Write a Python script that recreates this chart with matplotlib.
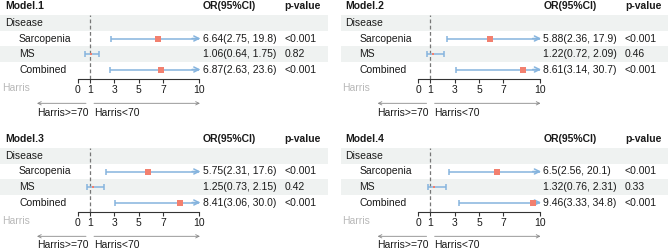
import matplotlib
matplotlib.use("Agg")
import matplotlib.pyplot as plt

plt.rcParams['font.family'] = ['Liberation Sans', 'DejaVu Sans']

# data
models = ['Model.1', 'Model.2', 'Model.3', 'Model.4']
groups = ['Sarcopenia', 'MS', 'Combined']
or_est = [[6.64, 1.06, 6.87], [5.88, 1.22, 8.61], [5.75, 1.25, 8.41], [6.5, 1.32, 9.46]]
ci_low = [[2.75, 0.64, 2.63], [2.36, 0.72, 3.14], [2.31, 0.73, 3.06], [2.56, 0.76, 3.33]]
ci_high = [[19.8, 1.75, 23.6], [17.9, 2.09, 30.7], [17.6, 2.15, 30.0], [20.1, 2.31, 34.8]]
ci_text = [['6.64(2.75, 19.8)', '1.06(0.64, 1.75)', '6.87(2.63, 23.6)'],
           ['5.88(2.36, 17.9)', '1.22(0.72, 2.09)', '8.61(3.14, 30.7)'],
           ['5.75(2.31, 17.6)', '1.25(0.73, 2.15)', '8.41(3.06, 30.0)'],
           ['6.5(2.56, 20.1)', '1.32(0.76, 2.31)', '9.46(3.33, 34.8)']]
p_text = [['<0.001', '0.82', '<0.001'], ['<0.001', '0.46', '<0.001'],
          ['<0.001', '0.42', '<0.001'], ['<0.001', '0.33', '<0.001']]
ticks = [0, 1, 3, 5, 7, 10]
xmax = 10

# styling
W, H = 669, 250
TXT = '#1a1a1a'
CI_COL = '#86b4de'
PT_COL = '#f2806f'
BAND = '#eff2f1'
FS = 7.5
marker_px = [5.5, 2.5, 6.5]

fig = plt.figure(figsize=(W / 100, H / 100), dpi=100)

# panel geometry in pixels
offsets = [(0, 0), (340.6, 0), (0, 133), (340.6, 133)]
ax_x0, ax_x1, ax_top, ax_bot = 77.7, 199.3, 15, 79
row_px = 15.5


def fx(px):
    # pixel x (relative to panel) -> axes fraction
    return (px - ax_x0) / (ax_x1 - ax_x0)


def ry(px):
    # pixel y (relative to panel) -> row units
    return 1 + (px - 23) / row_px


for k, (ox, oy) in enumerate(offsets):
    ax = fig.add_axes([(ox + ax_x0) / W, 1 - (oy + ax_bot) / H,
                       (ax_x1 - ax_x0) / W, (ax_bot - ax_top) / H])
    ax.set_facecolor('none')
    ax.set_xlim(0, xmax)
    ax.set_ylim(ry(ax_bot), ry(ax_top))
    for s in ['top', 'left', 'right']:
        ax.spines[s].set_visible(False)
    ax.spines['bottom'].set_color('#333333')
    ax.spines['bottom'].set_linewidth(0.8)
    ax.set_yticks([])
    ax.set_xticks(ticks)
    ax.set_xticklabels([str(t) for t in ticks])
    ax.tick_params(axis='x', length=3, width=0.8, pad=1.5, labelsize=FS,
                   color='#333333', labelcolor=TXT)
    tr = ax.get_yaxis_transform()

    # row bands (Disease row and MS row)
    for r in [1, 3]:
        ax.axhspan(r - 0.5, r + 0.5, xmin=fx(0), xmax=fx(327.7),
                   color=BAND, lw=0, zorder=0, clip_on=False)

    # header
    ax.text(fx(5), ry(6), models[k], transform=tr, fontsize=FS, fontweight='bold',
            color=TXT, ha='left', va='center')
    ax.text(fx(202.7), ry(6), 'OR(95%CI)', transform=tr, fontsize=FS,
            fontweight='bold', color=TXT, ha='left', va='center')
    ax.text(fx(284.3), ry(6), 'p-value', transform=tr, fontsize=FS,
            fontweight='bold', color=TXT, ha='left', va='center')
    ax.text(fx(5), 1, 'Disease', transform=tr, fontsize=FS, color=TXT,
            ha='left', va='center')

    # reference line
    ax.axvline(1, color='#777777', lw=0.9, ls=(0, (3, 2)), zorder=1)

    for i, g in enumerate(groups):
        y = i + 2
        ax.text(fx(19), y, g, transform=tr, fontsize=FS, color=TXT,
                ha='left', va='center')
        ax.text(fx(202.7), y, ci_text[k][i], transform=tr, fontsize=FS,
                color=TXT, ha='left', va='center')
        ax.text(fx(284.3), y, p_text[k][i], transform=tr, fontsize=FS,
                color=TXT, ha='left', va='center')

        lo, hi = ci_low[k][i], ci_high[k][i]
        ax.hlines(y, lo, min(hi, xmax), color=CI_COL, lw=1.1, zorder=2,
                  clip_on=False)
        ax.plot([lo], [y], marker='|', ms=4, mew=1.1, color=CI_COL, zorder=2,
                clip_on=False)
        if hi <= xmax:
            ax.plot([hi], [y], marker='|', ms=4, mew=1.1, color=CI_COL,
                    zorder=2, clip_on=False)
        else:
            ax.annotate('', xy=(xmax + 0.1, y), xytext=(xmax - 0.6, y),
                        arrowprops=dict(arrowstyle='->', color=CI_COL, lw=1.1,
                                        shrinkA=0, shrinkB=0, mutation_scale=9),
                        annotation_clip=False, zorder=2)
        ax.plot([or_est[k][i]], [y], marker='s', ms=marker_px[i] * 0.72,
                mew=0, color=PT_COL, zorder=3, clip_on=False)

    # x-axis annotations
    ax.text(fx(2), ry(87.5), 'Harris', transform=tr, fontsize=FS,
            color='#b8b8b8', ha='left', va='center')
    ya = ry(103.3)
    left_tip = (37 - ax_x0) / (ax_x1 - ax_x0) * xmax
    left_tail = (86 - ax_x0) / (ax_x1 - ax_x0) * xmax
    right_tail = (94 - ax_x0) / (ax_x1 - ax_x0) * xmax
    for a, b in [(left_tail, left_tip), (right_tail, xmax + 0.05)]:
        ax.annotate('', xy=(b, ya), xytext=(a, ya),
                    arrowprops=dict(arrowstyle='->', color='#888888', lw=0.6,
                                    shrinkA=0, shrinkB=0, mutation_scale=6),
                    annotation_clip=False)
    ax.text(left_tip, ry(112.5), 'Harris>=70', fontsize=FS, color=TXT,
            ha='left', va='center', clip_on=False)
    ax.text(right_tail, ry(112.5), 'Harris<70', fontsize=FS, color=TXT,
            ha='left', va='center', clip_on=False)

fig.savefig('out.png', dpi=100)
